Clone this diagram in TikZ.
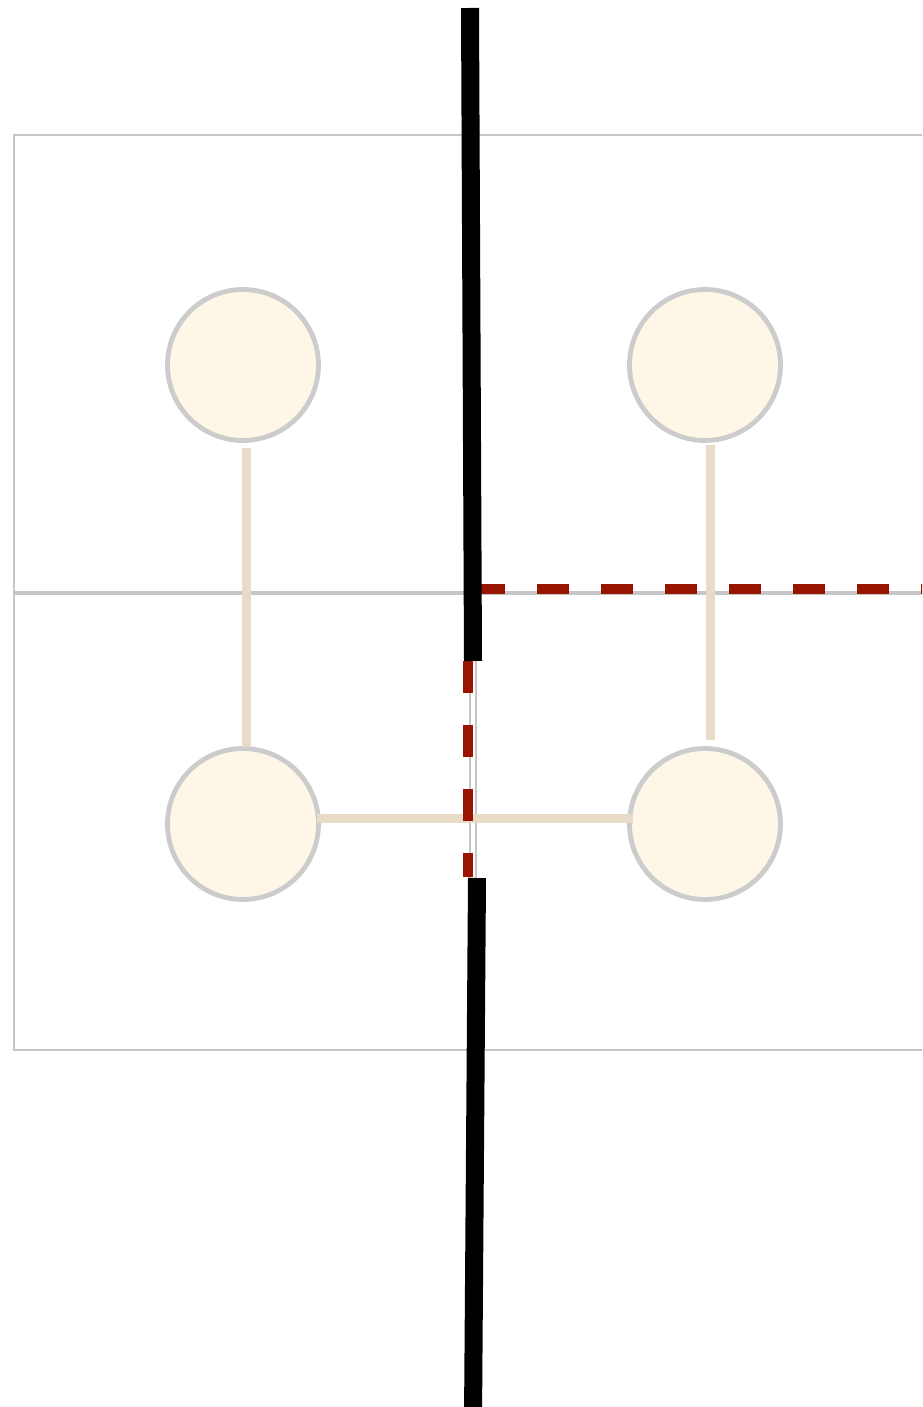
\documentclass[tikz,border=0pt]{standalone}
\usepackage{tikz}

\definecolor{cellgray}{HTML}{C6C6C6}
\definecolor{ringgray}{HTML}{CCCCCC}
\definecolor{cream}{HTML}{FEF6E6}
\definecolor{tan}{HTML}{E8DBC8}
\definecolor{cutred}{HTML}{991500}

\tikzset{
  cell/.style={draw=cellgray,line width=1.2pt},
  site/.style={circle,draw=ringgray,line width=2.4pt,fill=cream,inner sep=0pt,minimum size=75.5pt},
  bond/.style={tan,line width=4.5pt},
  wall/.style={black,line width=9pt},
  cut/.style={cutred,line width=5pt,dash pattern=on 16pt off 16pt}
}

\begin{document}
\begin{tikzpicture}[x=0.5pt,y=-0.5pt]
    \useasboundingbox (0,0) rectangle (922,1407);
    \clip (0,0) rectangle (922,1407);

    % Cells
    \draw[cell] (14,135) rectangle (470,592);
    \draw[cell] (476,135) rectangle (940,592);
    \draw[cell] (14,594) rectangle (470,1050);
    \draw[cell] (476,594) rectangle (940,1050);

    % Sites
    \node[site] (tl) at (243,365) {};
    \node[site] (tr) at (705,365) {};
    \node[site] (bl) at (243,824) {};
    \node[site] (br) at (705,824) {};

    % Bonds
    \draw[bond] ([xshift=1.5pt,yshift=-2.5pt]tl.south) -- ([xshift=1.5pt,yshift=-0.5pt]bl.north);
    \draw[bond] ([xshift=2.5pt,yshift=-1pt]tr.south) -- ([xshift=2.5pt,yshift=3pt]br.north);
    \draw[bond] ([xshift=-2pt,yshift=3pt]bl.east) -- ([xshift=3pt,yshift=3pt]br.west);

    % Cuts
    \coordinate (cutA) at (473,589);
    \coordinate (cutB) at (930,589);
    \coordinate (cutC) at (467.5,661);
    \coordinate (cutD) at (467.5,877);
    \draw[cut] (cutA) -- (cutB);
    \draw[cut] (cutC) -- (cutD);

    % Wall
    \coordinate (w1) at (470,8);
    \coordinate (w2) at (473,661);
    \coordinate (w3) at (477,878);
    \coordinate (w4) at (473,1420);
    \draw[wall] (w1) -- (w2);
    \draw[wall] (w3) -- (w4);
\end{tikzpicture}
\end{document}
